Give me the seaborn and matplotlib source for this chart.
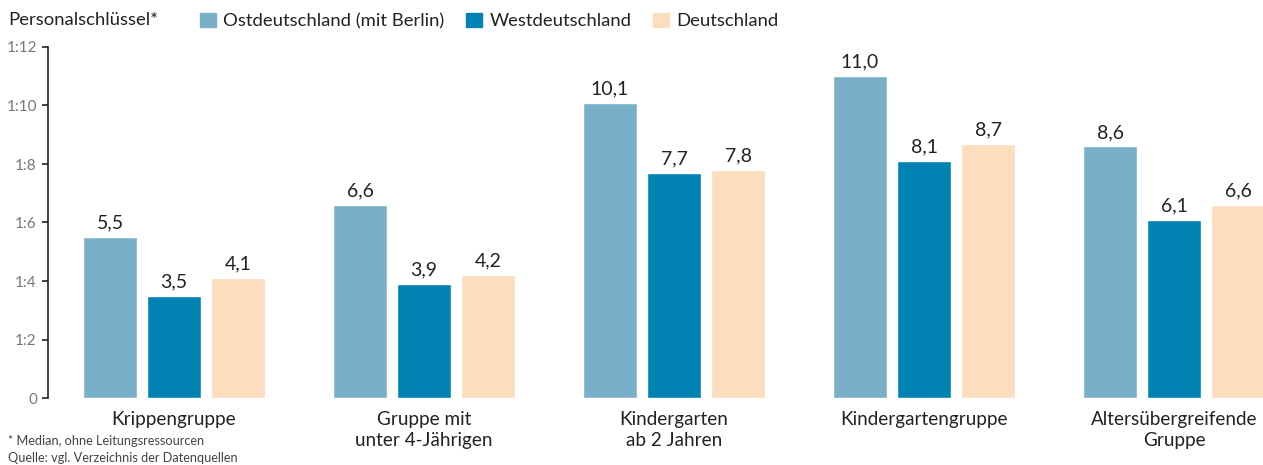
import numpy as np
import pandas as pd
import matplotlib.pyplot as plt
import seaborn as sns

categories = ['Krippengruppe', 'Gruppe mit\nunter 4-Jährigen', 'Kindergarten\nab 2 Jahren',
              'Kindergartengruppe', 'Altersübergreifende\nGruppe']
regions = ['Ostdeutschland (mit Berlin)', 'Westdeutschland', 'Deutschland']
ost = [5.5, 6.6, 10.1, 11.0, 8.6]
west = [3.5, 3.9, 7.7, 8.1, 6.1]
de = [4.1, 4.2, 7.8, 8.7, 6.6]
yticks = [0, 2, 4, 6, 8, 10, 12]
ytick_labels = ['0', '1:2', '1:4', '1:6', '1:8', '1:10', '1:12']

colors = ['#79AFC9', '#0083B3', '#FCDDBE']

df = pd.DataFrame({
    'Gruppe': categories * 3,
    'Region': [r for r in regions for _ in categories],
    'Wert': ost + west + de,
})

sns.set_style('white')
plt.rcParams['font.family'] = ['Lato', 'DejaVu Sans']

fig = plt.figure(figsize=(12.63, 4.65), dpi=100)
ax = fig.add_axes([48 / 1263, 67 / 465, 1 - 48 / 1263, 351 / 465])

sns.barplot(data=df, x='Gruppe', y='Wert', hue='Region', palette=colors,
            width=0.768, gap=0.17, ax=ax, legend=False, saturation=1)

for cont in ax.containers:
    labels = [f'{v:.1f}'.replace('.', ',') for v in cont.datavalues]
    ax.bar_label(cont, labels=labels, padding=4, fontsize=14, color='#222222')

ax.set_xlim(-0.504, 4.356)
ax.set_ylim(0, 12)
ax.set_yticks(yticks)
ax.set_yticklabels(ytick_labels, fontsize=11, color='#777777')
ax.tick_params(axis='y', length=4, width=1.2, color='#222222', direction='out', left=True, pad=4)
ax.tick_params(axis='x', length=0, labelsize=13.6, labelcolor='#222222', pad=9)
for lbl in ax.get_xticklabels():
    lbl.set_linespacing(1.35)
ax.set_xlabel('')
ax.set_ylabel('')
for s in ['top', 'right', 'bottom']:
    ax.spines[s].set_visible(False)
ax.spines['left'].set_color('#222222')
ax.spines['left'].set_linewidth(1.2)

# legend at the top
fig.text(8 / 1263, 1 - 20 / 465, 'Personalschlüssel*', fontsize=13.3, color='#222222', va='center')
handles = [plt.Rectangle((0, 0), 1, 1, color=c) for c in colors]
fig.legend(handles, regions, loc='center left', bbox_to_anchor=(200 / 1263, 1 - 21 / 465),
           ncol=3, frameon=False, fontsize=13.3, handlelength=0.86, handleheight=0.86,
           handletextpad=0.38, columnspacing=1.2, borderpad=0, borderaxespad=0,
           labelcolor='#222222')

fig.text(8 / 1263, 1 - 441 / 465, '* Median, ohne Leitungsressourcen', fontsize=9.2,
         color='#444444', va='center')
fig.text(8 / 1263, 1 - 458 / 465, 'Quelle: vgl. Verzeichnis der Datenquellen', fontsize=9.2,
         color='#444444', va='center')

fig.savefig('out.png', dpi=100)
